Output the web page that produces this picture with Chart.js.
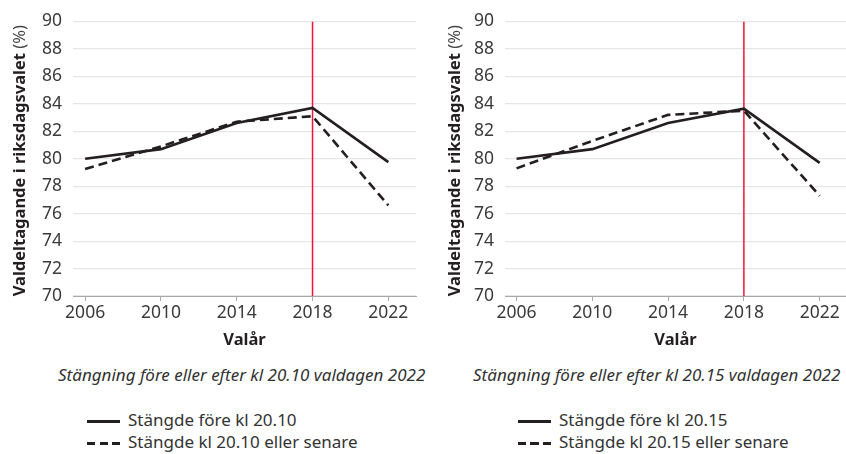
<!DOCTYPE html>
<html>
<head>
<meta charset="utf-8">
<script src="https://cdn.jsdelivr.net/npm/chart.js@4.4.0/dist/chart.umd.min.js"></script>
<style>
  body { margin: 0; background: #fff; font-family: "Noto Sans", sans-serif; color: #333; }
  #wrap { position: relative; width: 846px; height: 454px; }
  .box { position: absolute; top: 0; width: 423px; height: 352px; }
  .caption { position: absolute; top: 363px; font-style: italic; font-size: 17px; line-height: 23px; white-space: nowrap; }
  .legend { position: absolute; top: 409px; font-size: 17px; line-height: 22px; }
  .legend div { white-space: nowrap; }
  .legend span { display: inline-block; width: 33px; height: 2.5px; vertical-align: middle; margin-right: 8px; background: #231f20; }
  .legend span.dash { background: repeating-linear-gradient(to right, #231f20 0 8px, transparent 8px 12.5px); }
</style>
</head>
<body>
<div id="wrap">
  <div class="box" style="left:0"><canvas id="c1" width="423" height="352"></canvas></div>
  <div class="box" style="left:423px"><canvas id="c2" width="423" height="352"></canvas></div>
  <div class="caption" id="cap1" style="left:58px"></div>
  <div class="caption" id="cap2" style="left:473px"></div>
  <div class="legend" id="leg1" style="left:87px"></div>
  <div class="legend" id="leg2" style="left:518px"></div>
</div>
<script>
const years = [2006, 2010, 2014, 2018, 2022];
const yTicks = [70, 72, 74, 76, 78, 80, 82, 84, 86, 88, 90];
const markYear = 2018;

// Stängning kl 20.10
const before2010 = [80.0, 80.7, 82.6, 83.7, 79.75];
const after2010 = [79.25, 80.9, 82.7, 83.1, 76.6];
// Stängning kl 20.15
const before2015 = [80.0, 80.7, 82.6, 83.65, 79.7];
const after2015 = [79.3, 81.3, 83.2, 83.5, 77.3];

const yTitleBold = 'Valdeltagande i riksdagsvalet';
const yTitleUnit = ' (%)';
const xTitle = 'Valår';

// y-axis title with a bold part and a normal part
const yTitlePlugin = {
  id: 'yTitle',
  afterDraw(chart, args, opts) {
    const ctx = chart.ctx;
    const a = chart.chartArea;
    const bold = '700 16.5px "Noto Sans"';
    const norm = '400 16.5px "Noto Sans"';
    ctx.save();
    ctx.font = bold;
    const w1 = ctx.measureText(yTitleBold).width;
    ctx.font = norm;
    const w2 = ctx.measureText(yTitleUnit).width;
    ctx.translate(opts.x, (a.top + a.bottom) / 2 + 2);
    ctx.rotate(-Math.PI / 2);
    ctx.textBaseline = 'middle';
    ctx.fillStyle = '#231f20';
    let x = -(w1 + w2) / 2;
    ctx.font = bold;
    ctx.fillText(yTitleBold, x, 0);
    ctx.font = norm;
    ctx.fillStyle = '#444';
    ctx.fillText(yTitleUnit, x + w1, 0);
    ctx.restore();
  }
};

function makeChart(id, before, after, yAxisWidth, padRight, titleX, xmin, xmax) {
  return new Chart(document.getElementById(id), {
    type: 'line',
    data: {
      datasets: [
        {
          label: 'before',
          data: years.map((y, i) => ({ x: y, y: before[i] })),
          borderColor: '#231f20',
          borderWidth: 2.6,
          pointRadius: 0,
          tension: 0
        },
        {
          label: 'after',
          data: years.map((y, i) => ({ x: y, y: after[i] })),
          borderColor: '#231f20',
          borderWidth: 2.6,
          borderDash: [9, 5],
          pointRadius: 0,
          tension: 0
        },
        {
          label: 'mark',
          data: [{ x: markYear, y: yTicks[0] }, { x: markYear, y: yTicks[yTicks.length - 1] }],
          borderColor: '#ec1639',
          borderWidth: 1.5,
          pointRadius: 0
        }
      ]
    },
    options: {
      responsive: false,
      animation: false,
      layout: { padding: { top: 18, right: padRight, bottom: 0, left: 0 } },
      plugins: {
        legend: { display: false },
        tooltip: { enabled: false },
        yTitle: { x: titleX }
      },
      scales: {
        x: {
          type: 'linear',
          min: xmin,
          max: xmax,
          afterBuildTicks: s => { s.ticks = years.map(v => ({ value: v })); },
          afterFit: s => { s.height = 56; },
          grid: { drawOnChartArea: false, drawTicks: true, tickLength: 5, color: '#aaa' },
          border: { display: true, color: '#aaa', width: 1 },
          ticks: { color: '#3a3a3a', font: { family: 'Noto Sans', size: 17.5 }, padding: 2, callback: v => String(v) },
          title: { display: true, text: xTitle, color: '#231f20', font: { family: 'Noto Sans', size: 16.5, weight: 'bold' }, padding: { top: 2, bottom: 2 } }
        },
        y: {
          min: yTicks[0],
          max: yTicks[yTicks.length - 1],
          afterBuildTicks: s => { s.ticks = yTicks.map(v => ({ value: v })); },
          afterFit: s => { s.width = yAxisWidth; },
          grid: { color: '#e6e6e6', lineWidth: 1.2, drawTicks: false },
          border: { display: false },
          ticks: { color: '#3a3a3a', font: { family: 'Noto Sans', size: 17.5 }, padding: 11 }
        }
      }
    },
    plugins: [yTitlePlugin]
  });
}

makeChart('c1', before2010, after2010, 73, 7, 20, 2005.36, 2023.46);
makeChart('c2', before2015, after2015, 82, 0, 32, 2005.39, 2023.39);

const captions = ['Stängning före eller efter kl 20.10 valdagen 2022', 'Stängning före eller efter kl 20.15 valdagen 2022'];
const legendLabels = [
  ['Stängde före kl 20.10', 'Stängde kl 20.10 eller senare'],
  ['Stängde före kl 20.15', 'Stängde kl 20.15 eller senare']
];
document.getElementById('cap1').textContent = captions[0];
document.getElementById('cap2').textContent = captions[1];
['leg1', 'leg2'].forEach((id, k) => {
  const el = document.getElementById(id);
  el.innerHTML = '<div><span></span>' + legendLabels[k][0] + '</div>' +
                 '<div><span class="dash"></span>' + legendLabels[k][1] + '</div>';
});
</script>
</body>
</html>
